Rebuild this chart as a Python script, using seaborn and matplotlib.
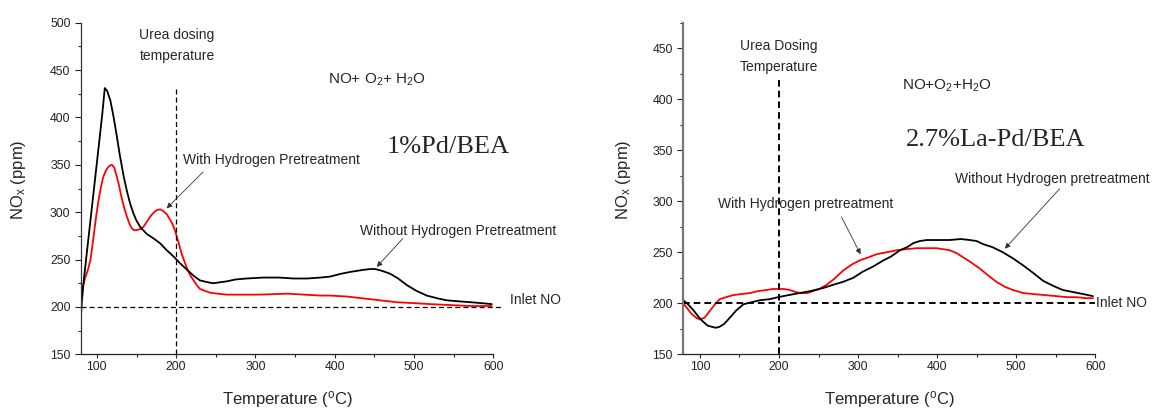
import matplotlib
matplotlib.use("Agg")
import matplotlib.pyplot as plt
from matplotlib.ticker import MultipleLocator
import numpy as np
import pandas as pd
import seaborn as sns

# ---------------- data ----------------
# Left panel: 1%Pd/BEA
left_without_T = [80, 81, 84, 88, 92, 96, 100, 104, 107, 110, 113, 117, 121, 125, 129, 134, 138, 142, 146, 150,
                  155, 163, 172, 180, 188, 197, 205, 214, 222, 230, 240, 247, 255, 264, 275, 289, 310, 330, 348, 365,
                  382, 394, 408, 420, 435, 445, 451, 460, 470, 480, 491, 503, 516, 530, 541, 555, 571, 585, 598]
left_without_NOx = [192, 205, 232, 262, 292, 322, 352, 382, 405, 431, 428, 418, 401, 381, 360, 337, 322, 309, 299, 291,
                    284, 277, 272, 267, 260, 253, 246, 239, 233, 228, 226, 225, 226, 227, 229, 230, 231, 231, 230, 230,
                    231, 232, 235, 237, 239, 240, 240, 238, 235, 230, 223, 217, 212, 209, 207, 206, 205, 204, 203]

left_with_T = [80, 81, 85, 89, 92, 96, 99, 102, 105, 108, 112, 116, 119, 122, 125, 128, 131, 135, 138, 141,
               144, 147, 150, 154, 157, 160, 163, 167, 171, 175, 180, 184, 188, 191, 195, 198, 201, 204, 207, 210,
               214, 218, 222, 226, 230, 236, 243, 252, 264, 280, 306, 340, 382, 394, 415, 436, 457, 478, 500, 520,
               545, 570, 598]
left_with_NOx = [212, 218, 230, 240, 250, 275, 295, 312, 326, 337, 345, 349, 350, 347, 338, 328, 316, 303, 295, 288,
                 283, 281, 281, 282, 283, 286, 290, 295, 299, 302, 303, 301, 298, 294, 288, 282, 274, 265, 256, 249,
                 240, 233, 228, 223, 219, 217, 215, 214, 213, 213, 213, 214, 212, 212, 211, 209, 207, 205, 204, 203,
                 202, 201, 201]

# Right panel: 2.7%La-Pd/BEA
right_without_T = [79, 85, 92, 98, 104, 110, 115, 120, 125, 131, 138, 146, 155, 165, 176, 188, 199, 212, 226, 240,
                   256, 268, 281, 294, 306, 319, 332, 342, 353, 362, 370, 378, 387, 400, 416, 430, 441, 450, 458, 470,
                   483, 496, 509, 521, 534, 547, 559, 572, 585, 597]
right_without_NOx = [203, 199, 193, 187, 182, 178, 177, 176, 177, 180, 186, 193, 199, 201, 203, 204, 206, 208, 210, 212,
                     215, 218, 221, 225, 231, 236, 242, 246, 252, 255, 259, 261, 262, 262, 262, 263, 262, 261, 258, 255,
                     250, 244, 237, 230, 222, 217, 213, 211, 209, 207]

right_with_T = [79, 84, 89, 95, 100, 106, 110, 115, 120, 125, 133, 142, 152, 163, 174, 184, 192, 199, 206, 214,
                221, 228, 236, 243, 251, 260, 270, 281, 292, 302, 313, 323, 336, 349, 361, 374, 387, 399, 408, 416,
                425, 433, 443, 454, 465, 475, 486, 496, 509, 522, 537, 551, 564, 576, 588, 597]
right_with_NOx = [200, 195, 190, 186, 184, 186, 190, 195, 200, 204, 206, 208, 209, 210, 212, 213, 214, 214, 214, 213,
                  211, 210, 210, 212, 214, 218, 224, 232, 238, 242, 245, 248, 250, 252, 253, 254, 254, 254, 253, 252,
                  249, 245, 240, 234, 227, 221, 216, 213, 210, 209, 208, 207, 206, 206, 205, 205]

inlet_no = 200
urea_T = 200

series_names = ["With Hydrogen Pretreatment", "Without Hydrogen Pretreatment"]
palette = {series_names[0]: "#ff0000", series_names[1]: "#000000"}

# ---------------- style ----------------
sns.set_style("ticks")
plt.rcParams["font.family"] = ["Liberation Sans", "DejaVu Sans"]
plt.rcParams["mathtext.fontset"] = "custom"
plt.rcParams["mathtext.rm"] = "Liberation Sans"
plt.rcParams["mathtext.it"] = "Liberation Sans:italic"
plt.rcParams["mathtext.bf"] = "Liberation Sans:bold"

W, H = 1157, 409
fig = plt.figure(figsize=(W / 100, H / 100), dpi=100)
bot = 1 - 354.3 / H
hgt = (354.3 - 22.7) / H
ax1 = fig.add_axes([81 / W, bot, (493.3 - 81) / W, hgt])
ax2 = fig.add_axes([683.3 / W, bot, (1095.3 - 683.3) / W, hgt])


def make_df(wT, wV, woT, woV):
    return pd.concat([
        pd.DataFrame({"T": wT, "NOx": wV, "series": series_names[0]}),
        pd.DataFrame({"T": woT, "NOx": woV, "series": series_names[1]}),
    ], ignore_index=True)


df_left = make_df(left_with_T, left_with_NOx, left_without_T, left_without_NOx)
df_right = make_df(right_with_T, right_with_NOx, right_without_T, right_without_NOx)

for ax, df in ((ax1, df_left), (ax2, df_right)):
    sns.lineplot(data=df, x="T", y="NOx", hue="series", hue_order=series_names,
                 palette=palette, estimator=None, sort=False, legend=False,
                 linewidth=1.3, ax=ax)


def style_axes(ax, xlim, ylim, left_spine_color="#333333", left_spine_lw=0.9):
    ax.set_xlim(*xlim)
    ax.set_ylim(*ylim)
    sns.despine(ax=ax)
    ax.spines["left"].set_color(left_spine_color)
    ax.spines["left"].set_linewidth(left_spine_lw)
    ax.spines["bottom"].set_color("#222222")
    ax.spines["bottom"].set_linewidth(0.9)
    ax.xaxis.set_major_locator(MultipleLocator(100))
    ax.xaxis.set_minor_locator(MultipleLocator(50))
    ax.yaxis.set_major_locator(MultipleLocator(50))
    ax.yaxis.set_minor_locator(MultipleLocator(25))
    ax.tick_params(axis="x", which="major", direction="out", length=3, width=0.8,
                   pad=1.5, labelsize=8.8, colors="#222222")
    ax.tick_params(axis="x", which="minor", direction="out", length=2, width=0.8, colors="#222222")
    ax.tick_params(axis="y", which="major", direction="out", length=4, width=0.8,
                   pad=3.5, labelsize=8.8, colors="#222222")
    ax.tick_params(axis="y", which="minor", direction="out", length=2.2, width=0.8, colors="#222222")
    ax.set_xlabel(r"Temperature ($^{\rm o}$C)", fontsize=12)
    ax.set_ylabel(r"NO$_{\rm x}$ (ppm)", fontsize=12)
    ax.xaxis.label.set_va("center")
    ax.yaxis.label.set_va("center")


style_axes(ax1, (80, 600), (150, 500))
style_axes(ax2, (79, 600), (150, 475), left_spine_color="#777777", left_spine_lw=1.6)
ax1.xaxis.set_label_coords(0.5, -0.135)
ax1.yaxis.set_label_coords(-0.152, 0.526)
ax2.xaxis.set_label_coords(0.5, -0.136)
ax2.yaxis.set_label_coords(-0.146, 0.526)

# reference lines
ax1.plot([urea_T, urea_T], [150, 430], color="black", lw=0.9, ls=(0, (4, 2.5)))
ax1.plot([80, 612], [inlet_no, inlet_no], color="black", lw=0.9, ls=(0, (4, 2.5)), clip_on=False)
ax2.plot([urea_T, urea_T], [150, 422], color="black", lw=1.4, ls=(0, (3.4, 2.1)))
ax2.plot([79, 600], [inlet_no, inlet_no], color="black", lw=1.4, ls=(0, (3.4, 2.1)), clip_on=False)

# ---------------- annotations ----------------
fs = 10
arrow_kw = dict(arrowstyle="-|>", color="#333333", lw=0.6, mutation_scale=8, shrinkA=0, shrinkB=0)

# left panel
ax1.text(153.7, 487, "Urea dosing", fontsize=fs, va="center", ha="left")
ax1.text(153.7, 464.8, "temperature", fontsize=fs, va="center", ha="left")
ax1.text(392, 439.5, r"NO+ O$_2$+ H$_2$O", fontsize=11, va="center", ha="left")
ax1.text(465.7, 369, "1%Pd/BEA", fontsize=19, family="Liberation Serif", va="center", ha="left")
ax1.text(209.2, 355, "With Hydrogen Pretreatment", fontsize=fs, va="center", ha="left")
ax1.annotate("", xy=(188, 304), xytext=(234, 342.5), arrowprops=arrow_kw)
ax1.text(432, 280, "Without Hydrogen Pretreatment", fontsize=fs, va="center", ha="left", clip_on=False)
ax1.annotate("", xy=(453, 242.2), xytext=(485.9, 272.2), arrowprops=arrow_kw, annotation_clip=False)
ax1.text(621, 207.8, "Inlet NO", fontsize=fs, va="center", ha="left", clip_on=False)

# right panel
ax2.text(150.6, 452.6, "Urea Dosing", fontsize=fs, va="center", ha="left")
ax2.text(150.6, 432, "Temperature", fontsize=fs, va="center", ha="left")
ax2.text(355, 413.5, r"NO+O$_2$+H$_2$O", fontsize=11, va="center", ha="left")
ax2.text(360.4, 359.6, "2.7%La-Pd/BEA", fontsize=19, family="Liberation Serif", va="center", ha="left")
ax2.text(123.2, 297.6, "With Hydrogen pretreatment", fontsize=fs, va="center", ha="left")
ax2.annotate("", xy=(303.2, 248), xytext=(279.1, 284.5), arrowprops=arrow_kw)
ax2.text(422.9, 322, "Without Hydrogen pretreatment", fontsize=fs, va="center", ha="left", clip_on=False)
ax2.annotate("", xy=(485.6, 253.5), xytext=(555, 312.3), arrowprops=arrow_kw)
ax2.text(601.5, 200.3, "Inlet NO", fontsize=fs, va="center", ha="left", clip_on=False)

fig.savefig("out.png", dpi=100)
